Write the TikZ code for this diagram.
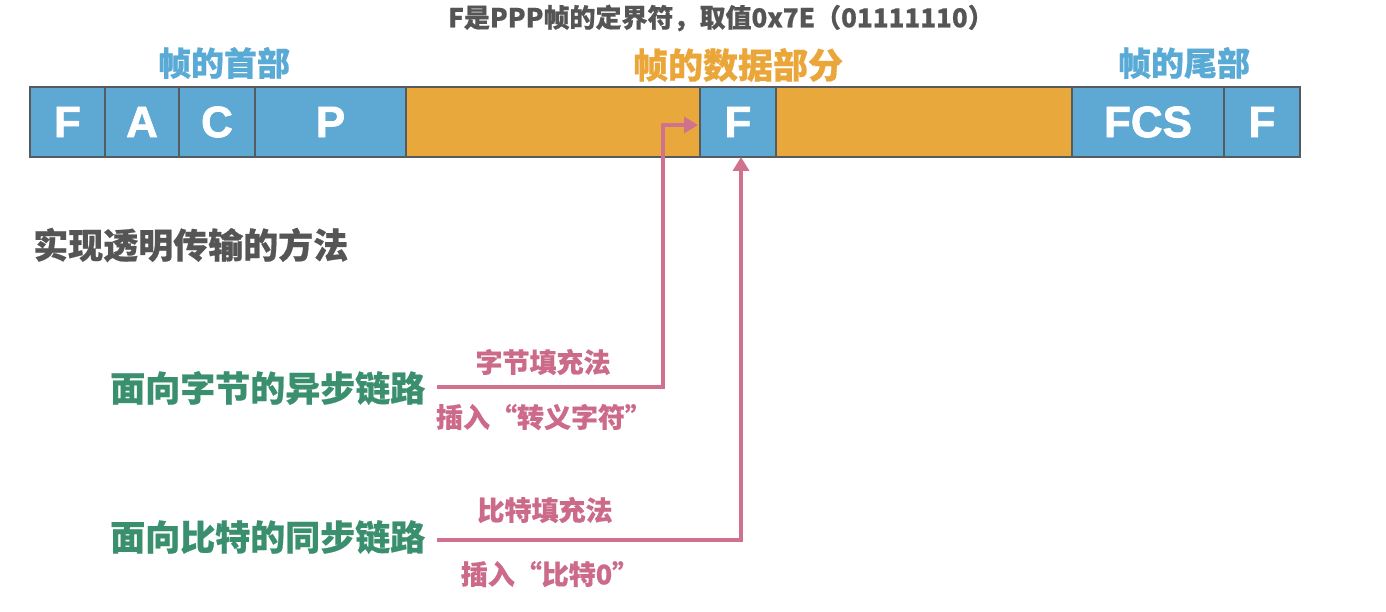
\documentclass[tikz,border=0pt]{standalone}
\usepackage{fontspec}
\setmainfont{Liberation Sans}
\newfontfamily\heavy{Liberation Sans}[FakeBold=1.6]
\newfontfamily\cjk{Noto Sans CJK SC}[BoldFeatures={FakeBold=0.6}]
\usetikzlibrary{arrows.meta}
\definecolor{boxblue}{HTML}{5DA9D3}
\definecolor{boxorange}{HTML}{E9A83B}
\definecolor{edgegray}{HTML}{555B5E}
\definecolor{hblue}{HTML}{5AAAD6}
\definecolor{horange}{HTML}{EBA63A}
\definecolor{tgray}{HTML}{555555}
\definecolor{tgreen}{HTML}{3A8F6F}
\definecolor{tpink}{HTML}{CC6A8A}
\definecolor{lpink}{HTML}{D0728E}
\newcommand{\fs}[1]{\fontsize{#1}{#1}\selectfont}
\tikzset{
  field/.style={draw=edgegray, line width=2pt, minimum height=70pt, inner sep=0pt, outer sep=0pt, anchor=west, text=white, font=\heavy\fs{44}\bfseries},
  bluefield/.style={field, fill=boxblue},
  orangefield/.style={field, fill=boxorange},
  cjktext/.style={inner sep=0pt, font=\cjk\bfseries},
  pinkline/.style={draw=lpink, line width=4pt, -{Triangle[length=14pt,width=16pt]}},
  pinklabel/.style={cjktext, text=tpink, font=\cjk\bfseries\fs{27}},
}
\begin{document}
\begin{tikzpicture}[x=1pt,y=-1pt]
\useasboundingbox (0,0) rectangle (1386,612);
% frame fields
\node[bluefield, minimum width=75pt] (f1) at (30,122) {F};
\node[bluefield, minimum width=74pt] (fa) at (105,122) {A};
\node[bluefield, minimum width=76pt] (fc) at (179,122) {C};
\node[bluefield, minimum width=151pt] (fp) at (255,122) {P};
\node[orangefield, minimum width=294pt] (d1) at (406,122) {};
\node[bluefield, minimum width=76pt] (dF) at (700,122) {F};
\node[orangefield, minimum width=296pt] (d2) at (776,122) {};
\node[bluefield, minimum width=152pt] (fcs) at (1072,122) {FCS};
\node[bluefield, minimum width=76pt] (f2) at (1224,122) {F};
% headings
\node[cjktext, text=tgray, font=\cjk\bfseries\fs{26}] (cap) at (721,18) {F是PPP帧的定界符，取值0x7E（01111110）};
\node[cjktext, text=hblue, font=\cjk\bfseries\fs{33}] (hhead) at (224,63) {帧的首部};
\node[cjktext, text=horange, font=\cjk\bfseries\fs{35}] (hdata) at (738,65) {帧的数据部分};
\node[cjktext, text=hblue, font=\cjk\bfseries\fs{33}] (htail) at (1184,63) {帧的尾部};
\node[cjktext, text=tgray, font=\cjk\bfseries\fs{35}, anchor=west] (method) at (33,245) {实现透明传输的方法};
% links
\node[cjktext, text=tgreen, font=\cjk\bfseries\fs{35}, anchor=west] (byte) at (110,388) {面向字节的异步链路};
\node[cjktext, text=tgreen, font=\cjk\bfseries\fs{35}, anchor=west] (bit) at (110,537) {面向比特的同步链路};
\coordinate (turn1) at (663,387);
\coordinate (s1) at (437,387);
\coordinate (s2) at (437,540);
\coordinate (e1) at (698,125);
\coordinate (e2) at (741,157);
\draw[pinkline] (s1) -- (turn1) |- (e1);
\draw[pinkline] (s2) -| (e2);
\node[pinklabel] (l1) at (543,362) {字节填充法};
\node[pinklabel] (l2) at (544,417) {插入“转义字符”};
\node[pinklabel] (l3) at (545,510) {比特填充法};
\node[pinklabel] (l4) at (550,574) {插入“比特0”};
\end{tikzpicture}
\end{document}
